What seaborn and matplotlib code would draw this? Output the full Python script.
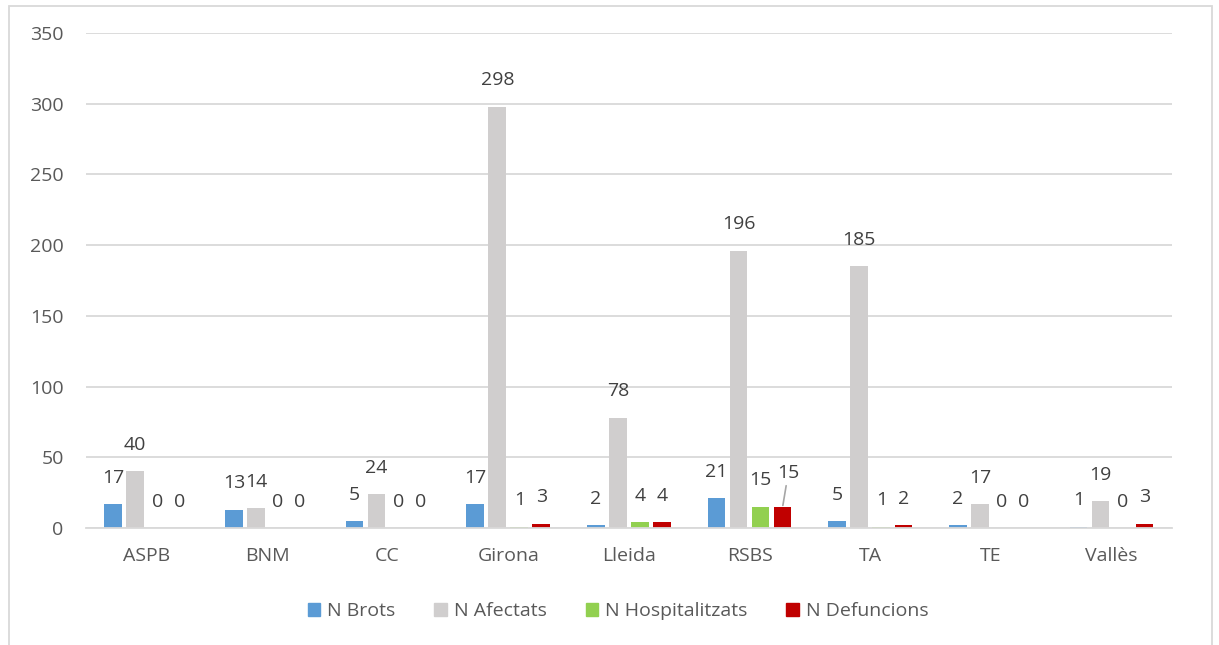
import pandas as pd
import matplotlib
matplotlib.use('Agg')
import matplotlib.pyplot as plt
import matplotlib.patches as mpatches
import seaborn as sns

regions = ['ASPB', 'BNM', 'CC', 'Girona', 'Lleida', 'RSBS', 'TA', 'TE', 'Vallès']
series = ['N Brots', 'N Afectats', 'N Hospitalitzats', 'N Defuncions']
brots = [17, 13, 5, 17, 2, 21, 5, 2, 1]
afectats = [40, 14, 24, 298, 78, 196, 185, 17, 19]
hospitalitzats = [0, 0, 0, 1, 4, 15, 1, 0, 0]
defuncions = [0, 0, 0, 3, 4, 15, 2, 0, 3]
colors = ['#5b9bd5', '#d0cece', '#92d050', '#c00000']

df = pd.DataFrame({'Regio': regions, series[0]: brots, series[1]: afectats,
                   series[2]: hospitalitzats, series[3]: defuncions})
long = df.melt(id_vars='Regio', var_name='serie', value_name='valor')

sns.set_style('white')
plt.rcParams['font.family'] = ['Open Sans', 'DejaVu Sans']

fig = plt.figure(figsize=(12.19, 6.45), dpi=100)
ax = fig.add_axes([0.0705, 0.1814, 0.8909, 0.7674])

sns.barplot(data=long, x='Regio', y='valor', hue='serie', palette=colors,
            width=0.73, gap=0.2, ax=ax, legend=False, saturation=1, linewidth=0)

ax.set_ylim(0, 350)
ax.set_yticks(range(0, 351, 50))
ax.set_xlabel('')
ax.set_ylabel('')
ax.yaxis.grid(True, color='#d9d9d9', lw=1.3)
ax.set_axisbelow(True)
for s in ['top', 'right', 'left']:
    ax.spines[s].set_visible(False)
ax.spines['bottom'].set_color('#d9d9d9')
ax.spines['bottom'].set_linewidth(1.3)
ax.tick_params(axis='both', length=0, labelsize=14, colors='#595959')
ax.tick_params(axis='y', pad=16)
ax.tick_params(axis='x', pad=14)

# data labels
for ci, cont in enumerate(ax.containers):
    for ri, bar in enumerate(cont):
        v = bar.get_height()
        x = bar.get_x() + bar.get_width() / 2
        if regions[ri] == 'RSBS' and ci == 3:
            ax.annotate(f'{int(v)}', (x, v), xytext=(4, 24), textcoords='offset points',
                        ha='center', va='center', fontsize=14, color='#404040',
                        arrowprops=dict(arrowstyle='-', color='#a6a6a6', lw=1.2,
                                        shrinkA=0, shrinkB=1))
        else:
            ax.annotate(f'{int(v)}', (x, v), xytext=(0, 19), textcoords='offset points',
                        ha='center', va='center', fontsize=14, color='#404040')

handles = [mpatches.Patch(color=c, label=s) for c, s in zip(colors, series)]
fig.legend(handles=handles, loc='center', bbox_to_anchor=(0.507, 0.052), ncol=4,
           frameon=False, fontsize=14, handlelength=0.65, handleheight=0.65,
           handletextpad=0.35, columnspacing=2.0, labelcolor='#595959')

border = mpatches.Rectangle((9 / 1219, -0.02), 1203 / 1219, 1.02 - 6 / 645,
                            transform=fig.transFigure, fill=False,
                            edgecolor='#d9d9d9', lw=1.3)
fig.patches.append(border)

fig.savefig('out.png', dpi=100)
